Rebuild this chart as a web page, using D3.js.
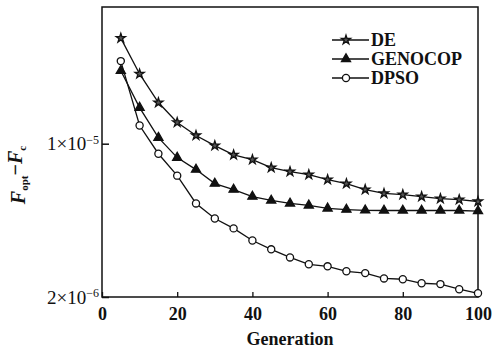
<!DOCTYPE html>
<meta charset="utf-8">
<head>
	<style type="text/css">
		body { margin: 0; background: #fff; }
		svg text { font-family: "Liberation Serif", "Times New Roman", "DejaVu Serif", serif; }
	</style>
	<title>Fopt - Fc vs Generation</title>
</head>
<script src="https://cdn.jsdelivr.net/npm/d3@7"></script>
<svg width="501" height="351" id="svg1"></svg>

<script>
	// data
	const generations = [5,10,15,20,25,30,35,40,45,50,55,60,65,70,75,80,85,90,95,100];
	const deValues = [3.03e-5,2.08e-5,1.54e-5,1.25e-5,1.09e-5,0.98e-5,0.89e-5,0.846e-5,0.778e-5,0.746e-5,
	                  0.723e-5,0.686e-5,0.658e-5,0.618e-5,0.593e-5,0.586e-5,0.574e-5,0.562e-5,0.556e-5,0.545e-5];
	const genocopValues = [2.15e-5,1.46e-5,1.065e-5,0.864e-5,0.762e-5,0.658e-5,0.618e-5,0.574e-5,0.551e-5,0.534e-5,
	                       0.523e-5,0.507e-5,0.501e-5,0.497e-5,0.496e-5,0.496e-5,0.496e-5,0.496e-5,0.496e-5,0.493e-5];
	const dpsoValues = [2.38e-5,1.21e-5,0.90e-5,0.715e-5,0.534e-5,0.456e-5,0.411e-5,0.362e-5,0.330e-5,0.303e-5,
	                    0.282e-5,0.276e-5,0.262e-5,0.257e-5,0.243e-5,0.241e-5,0.231e-5,0.229e-5,0.217e-5,0.208e-5];
	const seriesNames = ["DE", "GENOCOP", "DPSO"];
	const xTicks = [0, 20, 40, 60, 80, 100];
	const yTicks = [2e-6, 1e-5];
	const yTickLabels = [["2×10", "−6"], ["1×10", "−5"]];

	const serif = '"Liberation Serif", "Times New Roman", "DejaVu Serif", serif';

	const svg1 = d3.select('#svg1');
	const margin = { top: 7, right: 23, bottom: 54, left: 102 };
	const width = +svg1.attr('width');
	const height = +svg1.attr('height');
	const innerWidth = width - margin.left - margin.right;
	const innerHeight = height - margin.top - margin.bottom;

	const xScale = d3.scaleLinear().domain([0, 100]).range([0, innerWidth]);
	const yScale = d3.scaleLog().domain([2e-6, 4.2e-5]).range([innerHeight, 0]);

	const g = svg1.append('g').attr('transform', `translate(${margin.left},${margin.top})`);

	// frame
	g.append('rect')
		.attr('width', innerWidth)
		.attr('height', innerHeight)
		.attr('fill', 'none')
		.attr('stroke', '#111')
		.attr('stroke-width', 1.5);

	// x axis: ticks point inward
	const xAxis = d3.axisBottom(xScale).tickValues(xTicks).tickSizeInner(-5).tickSizeOuter(0).tickPadding(10);
	const xAxisG = g.append('g').attr('transform', `translate(0,${innerHeight})`).call(xAxis)
		.attr('font-family', serif).attr('font-size', 18).attr('font-weight', 'bold');
	xAxisG.select('.domain').remove();
	xAxisG.selectAll('line').attr('stroke', '#111').attr('stroke-width', 1.3);
	xAxisG.selectAll('text').attr('fill', '#111');

	// y axis: log ticks, custom labels with superscripts
	const yAxis = d3.axisLeft(yScale).tickValues(yTicks).tickSizeInner(-7).tickSizeOuter(0).tickFormat('');
	const yAxisG = g.append('g').call(yAxis)
		.attr('font-family', serif).attr('font-size', 19);
	yAxisG.select('.domain').remove();
	yAxisG.selectAll('line').attr('stroke', '#111').attr('stroke-width', 1.5);
	yAxisG.selectAll('.tick').each(function(d, i) {
		const t = d3.select(this).append('text')
			.attr('x', -3)
			.attr('dy', '0.32em')
			.attr('text-anchor', 'end')
			.attr('fill', '#111');
		t.append('tspan').text(yTickLabels[i][0]);
		t.append('tspan').attr('dy', '-0.55em').attr('font-size', '12px').text(yTickLabels[i][1]);
	});

	// x label
	g.append('text')
		.attr('x', innerWidth / 2)
		.attr('y', innerHeight + 48)
		.attr('text-anchor', 'middle')
		.attr('font-family', serif)
		.attr('font-weight', 'bold')
		.attr('font-size', '18px')
		.attr('fill', '#111')
		.text('Generation');

	// y label
	const yl = svg1.append('text')
		.attr('transform', `translate(25,${175}) rotate(-90)`)
		.attr('text-anchor', 'middle')
		.attr('font-family', serif)
		.attr('font-weight', 'bold')
		.attr('font-style', 'italic')
		.attr('font-size', '20px')
		.attr('fill', '#111');
	yl.append('tspan').text('F');
	yl.append('tspan').attr('dy', '0.3em').attr('font-size', '11px').attr('font-style', 'normal').text('opt');
	yl.append('tspan').attr('dy', '-0.3em').attr('font-style', 'normal').text('−');
	yl.append('tspan').text('F');
	yl.append('tspan').attr('dy', '0.3em').attr('font-size', '11px').attr('font-style', 'normal').text('c');

	const series = [
		{ name: seriesNames[0], values: deValues, symbol: d3.symbolStar, size: 26, fill: '#555' },
		{ name: seriesNames[1], values: genocopValues, symbol: d3.symbolTriangle, size: 36, fill: '#111' },
		{ name: seriesNames[2], values: dpsoValues, symbol: d3.symbolCircle, size: 40, fill: '#fff' }
	];

	const line = d3.line()
		.x((d, i) => xScale(generations[i]))
		.y(d => yScale(d));

	series.forEach(s => {
		g.append('path')
			.datum(s.values)
			.attr('fill', 'none')
			.attr('stroke', '#111')
			.attr('stroke-width', 1.3)
			.attr('d', line);

		g.selectAll('.pt-' + s.name)
			.data(s.values)
			.enter()
			.append('path')
			.attr('class', 'pt-' + s.name)
			.attr('transform', (d, i) => `translate(${xScale(generations[i])},${yScale(d)})`)
			.attr('d', d3.symbol().type(s.symbol).size(s.size))
			.attr('fill', s.fill)
			.attr('stroke', '#111')
			.attr('stroke-width', 1.3);
	});

	// legend
	const legend = svg1.selectAll('.legend')
		.data(series)
		.enter().append('g')
		.attr('class', 'legend')
		.attr('transform', (d, i) => `translate(332,${40 + i * 19})`);

	legend.append('line')
		.attr('x1', 0).attr('x2', 37)
		.attr('stroke', '#111').attr('stroke-width', 1.3);

	legend.append('path')
		.attr('transform', 'translate(14,0)')
		.attr('d', d => d3.symbol().type(d.symbol).size(d.size)())
		.attr('fill', d => d.fill)
		.attr('stroke', '#111')
		.attr('stroke-width', 1.3);

	legend.append('text')
		.attr('x', 39)
		.attr('dy', '0.35em')
		.attr('font-family', serif)
		.attr('font-weight', 'bold')
		.attr('font-size', '18px')
		.attr('fill', '#111')
		.text(d => d.name);
</script>
